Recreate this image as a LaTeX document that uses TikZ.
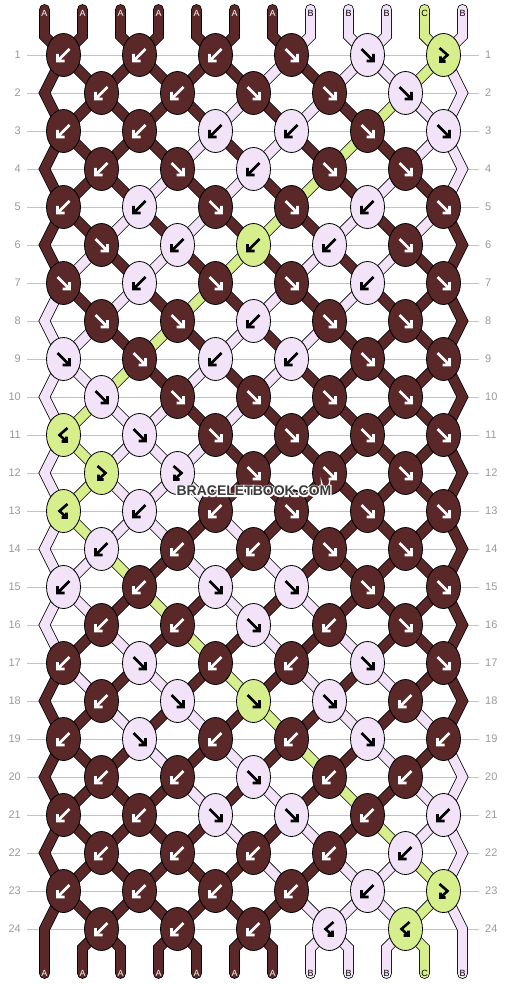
\documentclass[tikz,border=0pt]{standalone}
\usepackage{fontspec}
\setmainfont{Liberation Sans}
\usetikzlibrary{shapes.geometric}

\definecolor{colA}{HTML}{5A2828}
\definecolor{colB}{HTML}{F3E3F8}
\definecolor{colC}{HTML}{D7EE8D}
\definecolor{rowline}{HTML}{C2C2C2}
\definecolor{rownum}{HTML}{9A9A9A}
\definecolor{wmark}{HTML}{3C3C3C}

\pgfdeclarelayer{grid}
\pgfdeclarelayer{strands}
\pgfsetlayers{grid,strands,main}

% knot arrows: f, b, fb, bf
\newcommand\knotarrowf{\draw (-6,-6) -- (6,6) (6,-1) -- (6,6) -- (-1,6);}
\newcommand\knotarrowb{\draw (6,-6) -- (-6,6) (-6,-1) -- (-6,6) -- (1,6);}
\newcommand\knotarrowfb{\draw (-4,-7) -- (4,0) -- (-3,6.5) (-3,1.5) -- (-3,6.5) -- (2,6.5);}
\newcommand\knotarrowbf{\draw (4,-7) -- (-4,0) -- (3,6.5) (3,1.5) -- (3,6.5) -- (-2,6.5);}
% white rim round the site name
\newcommand\rimtext[1]{\rlap{\special{pdf:literal direct 1 Tr 2.6 w 1 1 1 RG}#1\special{pdf:literal direct 0 Tr}}#1}

\begin{document}
\begin{tikzpicture}[x=1pt, y=-1pt,
                    knot/.style={ellipse, draw=black, line width=0.8pt, fill=col#1, minimum width=34pt, minimum height=43pt, inner sep=0pt},
                    inkA/.style={white}, inkB/.style={black}, inkC/.style={black},
                    ink/.style={ink#1, line width=2.6pt, line cap=butt, line join=miter},
                    strand/.style={draw=black, line width=0.8pt, double=col#1, double distance=9.2pt, line cap=round, line join=miter},
                    endlabel/.style={ink#1, font=\fontsize{9}{9}\selectfont, inner sep=0pt},
                    rownr/.style={font=\fontsize{11}{11}\selectfont, text=rownum, inner xsep=6pt, inner ysep=0pt},
                    pics/arrow/.style={code={\csname knotarrow#1\endcsname}}
]
\useasboundingbox (0,0) rectangle (506,984);

% knots, row by row
\foreach \r/\knots in {1/{b/A,b/A,b/A,f/A,f/B,fb/C},
                       2/{b/A,b/A,f/A,f/A,f/B},
                       3/{b/A,b/A,b/B,b/B,f/A,f/B},
                       4/{b/A,f/A,b/B,f/A,f/A},
                       5/{b/A,b/B,f/A,f/A,b/B,f/A},
                       6/{f/A,b/B,b/C,b/B,f/A},
                       7/{f/A,b/B,f/A,f/A,b/B,f/A},
                       8/{f/A,f/A,b/B,f/A,f/A},
                       9/{f/B,f/A,b/B,b/B,f/A,f/A},
                       10/{f/B,f/A,f/A,f/A,f/A},
                       11/{bf/C,f/B,f/A,f/A,f/A,f/A},
                       12/{fb/C,fb/B,f/A,f/A,f/A},
                       13/{bf/C,b/B,b/A,f/A,f/A,f/A},
                       14/{b/B,b/A,b/A,f/A,f/A},
                       15/{b/B,b/A,f/B,f/B,f/A,f/A},
                       16/{b/A,b/A,f/B,b/A,f/A},
                       17/{b/A,f/B,b/A,b/A,f/B,f/A},
                       18/{b/A,f/B,f/C,f/B,b/A},
                       19/{b/A,f/B,b/A,b/A,f/B,b/A},
                       20/{b/A,b/A,f/B,b/A,b/A},
                       21/{b/A,b/A,f/B,f/B,b/A,b/B},
                       22/{b/A,b/A,b/A,b/A,b/B},
                       23/{b/A,b/A,b/A,b/A,b/B,fb/C},
                       24/{b/A,b/A,b/A,bf/B,bf/C}}{
  \foreach \kind/\clr [count=\i] in \knots {
    \pgfmathtruncatemacro\cl{2*\i-mod(\r,2)}
    \node[knot=\clr] (k-\r-\cl) at ({63.5+38*(\cl-1)},{55+38*(\r-1)}) {};
    \pic[ink=\clr] at (k-\r-\cl) {arrow=\kind};
  }
}
%
% where each string position passes a row
\foreach \r in {1,...,24}{
  \foreach \k in {1,...,12}{
    \pgfmathtruncatemacro\cl{mod(\r,2)==1 ? \k-1+mod(\k,2) : \k-mod(\k,2)}
    \ifnum\cl=0 \coordinate (n-\r-\k) at ({44.5+38*(\k-1)},{55+38*(\r-1)});
    \else\ifnum\cl=12 \coordinate (n-\r-\k) at ({44.5+38*(\k-1)},{55+38*(\r-1)});
    \else \coordinate (n-\r-\k) at (k-\r-\cl);
    \fi\fi
  }
}
\foreach \k in {1,...,12}{
  \coordinate (t-\k) at ({44.5+38*(\k-1)},9.5);
  \coordinate (n-0-\k) at ({44.5+38*(\k-1)},36);
  \coordinate (m-\k) at ({44.5+38*(\k-1)},948);
  \coordinate (n-25-\k) at ({44.5+38*(\k-1)},973.5);
}
%
% string letters
\foreach \clr [count=\k] in {A,A,A,A,A,A,A,B,B,B,C,B}{
  \node[endlabel=\clr] (top-\k) at ({44.5+38*(\k-1)},13) {\clr};
  \node[endlabel=\clr] (bot-\k) at ({44.5+38*(\k-1)},973) {\clr};
}
%
% rows
\begin{pgfonlayer}{grid}
\fill[white] (0,0) rectangle (506,984);
\foreach \r in {1,...,24}{
  \node[rownr, anchor=east] (ln-\r) at (27,{55+38*(\r-1)}) {\r};
  \node[rownr, anchor=west] (rn-\r) at (479,{55+38*(\r-1)}) {\r};
  \draw[rowline, line width=0.9pt] (ln-\r) -- (rn-\r);
}
\end{pgfonlayer}
%
% strands between the rows
\begin{pgfonlayer}{strands}
\foreach \r/\state in {0/{A,A,A,A,A,A,A,B,B,B,C,B},
                       1/{A,A,A,A,A,A,B,A,B,B,C,B},
                       2/{A,A,A,A,A,B,A,B,A,C,B,B},
                       3/{A,A,A,A,B,A,B,A,C,A,B,B},
                       4/{A,A,A,B,A,B,A,C,A,B,A,B},
                       5/{A,A,B,A,B,A,C,A,B,A,B,A},
                       6/{A,B,A,B,A,C,A,B,A,B,A,A},
                       7/{B,A,B,A,C,A,B,A,B,A,A,A},
                       8/{B,B,A,C,A,B,A,B,A,A,A,A},
                       9/{B,B,C,A,B,A,B,A,A,A,A,A},
                       10/{B,C,B,B,A,B,A,A,A,A,A,A},
                       11/{B,C,B,B,B,A,A,A,A,A,A,A},
                       12/{B,C,B,B,B,A,A,A,A,A,A,A},
                       13/{B,C,B,B,A,B,A,A,A,A,A,A},
                       14/{B,B,C,A,B,A,B,A,A,A,A,A},
                       15/{B,B,A,C,A,B,A,B,A,A,A,A},
                       16/{B,A,B,A,C,A,B,A,B,A,A,A},
                       17/{A,B,A,B,A,C,A,B,A,B,A,A},
                       18/{A,A,B,A,B,A,C,A,B,A,B,A},
                       19/{A,A,A,B,A,B,A,C,A,B,A,B},
                       20/{A,A,A,A,B,A,B,A,C,A,B,B},
                       21/{A,A,A,A,A,B,A,B,A,C,B,B},
                       22/{A,A,A,A,A,A,B,A,B,B,C,B},
                       23/{A,A,A,A,A,A,A,B,B,B,C,B},
                       24/{A,A,A,A,A,A,A,B,B,B,C,B}}{
  \pgfmathtruncatemacro\rn{\r+1}
  \foreach \clr [count=\k] in \state {
    \ifnum\r=0 \draw[strand=\clr] (t-\k) -- (n-0-\k) -- (n-1-\k);
    \else\ifnum\k=1 \else\ifnum\k=12 \else
      \ifnum\r=24 \draw[strand=\clr] (n-24-\k) -- (m-\k) -- (n-25-\k);
      \else \draw[strand=\clr] (n-\r-\k) -- (n-\rn-\k);
      \fi
    \fi\fi\fi
  }
}
% outer strings bend round the edges
\foreach \r/\lc/\rc in {2/A/B,4/A/B,6/A/A,8/B/A,10/B/A,12/B/A,14/B/A,16/B/A,18/A/A,20/A/B,22/A/B,24/A/B}{
  \pgfmathtruncatemacro\ra{\r-1}
  \pgfmathtruncatemacro\rb{\r+1}
  \draw[strand=\lc] (n-\ra-1) -- (n-\r-1) -- (n-\rb-1);
  \draw[strand=\rc] (n-\ra-12) -- (n-\r-12) -- (n-\rb-12);
}
\end{pgfonlayer}
%
\node[font=\bfseries\fontsize{14}{14}\selectfont, text=wmark] (brand) at (254,491) {\rimtext{BRACELETBOOK.COM}};
\end{tikzpicture}
\end{document}
